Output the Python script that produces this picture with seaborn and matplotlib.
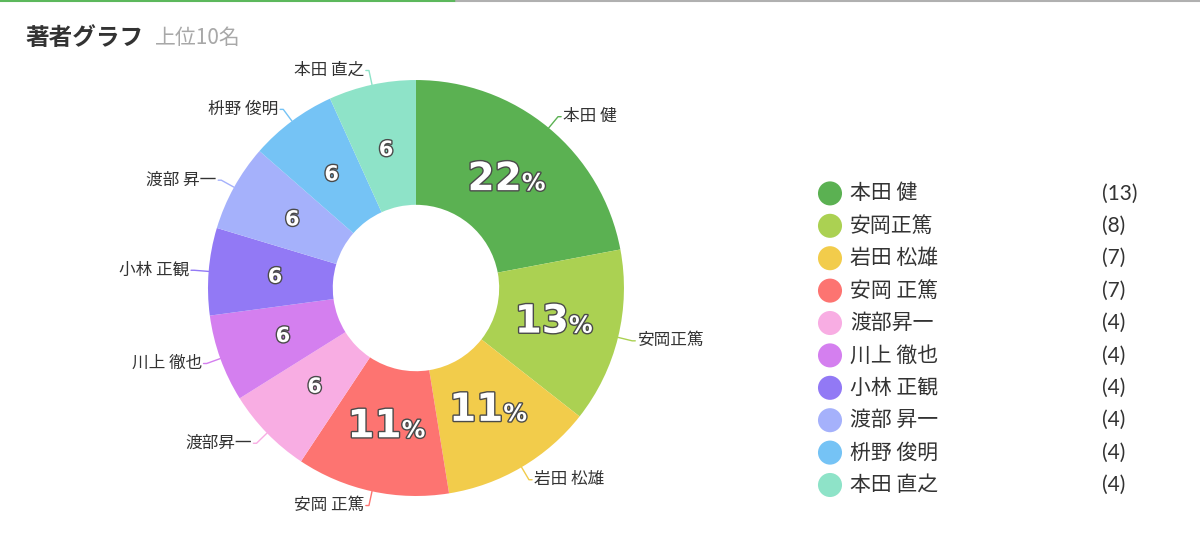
import numpy as np
import matplotlib
matplotlib.use('Agg')
import matplotlib.pyplot as plt
import matplotlib.patheffects as pe
from matplotlib.lines import Line2D
import seaborn as sns

# データ
authors = ['本田 健', '安岡正篤', '岩田 松雄', '安岡 正篤', '渡部昇一',
           '川上 徹也', '小林 正観', '渡部 昇一', '枡野 俊明', '本田 直之']
counts = [13, 8, 7, 7, 4, 4, 4, 4, 4, 4]
colors = ['#5bb152', '#abd152', '#f2cc4b', '#fd7471', '#f8ade3',
          '#d47fef', '#9279f5', '#a5b1fb', '#75c3f5', '#8ee3c8']

sns.set_theme(style='white')
plt.rcParams['font.family'] = ['Noto Sans CJK JP', 'DejaVu Sans']
num_font = ['Lato', 'DejaVu Sans']
pct_font = ['DejaVu Sans']

palette = sns.color_palette(colors)
fig = plt.figure(figsize=(12, 5.58), dpi=100)

# ドーナツグラフ
ax = fig.add_axes([0.13, 0.0179, 0.4333, 0.9319])
wedges, _ = ax.pie(counts, colors=palette, startangle=90, counterclock=False,
                   radius=1.0, wedgeprops=dict(width=0.6, edgecolor='none'))
ax.set_xlim(-1.25, 1.25)
ax.set_ylim(-1.25, 1.25)
ax.set_aspect('equal')
ax.axis('off')

total = sum(counts)
stroke = [pe.withStroke(linewidth=2.0, foreground='#4a4a4a')]
for w, name, c, col in zip(wedges, authors, counts, palette):
    ang = np.deg2rad((w.theta1 + w.theta2) / 2)
    cx, cy = np.cos(ang), np.sin(ang)
    pct = int(100 * c / total)
    # 内側のラベル
    r_in = 0.68
    if pct >= 10:
        ax.text(r_in * cx + 0.075, r_in * cy, str(pct), ha='right', va='center',
                fontsize=28, fontweight='bold', fontstyle='normal', color='white',
                family=pct_font, path_effects=stroke)
        ax.text(r_in * cx + 0.075, r_in * cy - 0.02, '%', ha='left', va='center',
                fontsize=17, fontweight='bold', fontstyle='normal', color='white',
                family=pct_font, path_effects=stroke)
    else:
        ax.text(r_in * cx, r_in * cy, str(pct), ha='center', va='center',
                fontsize=15, fontweight='bold', fontstyle='normal', color='white',
                family=pct_font, path_effects=stroke)
    # 外側のラベルと引き出し線
    ex, ey = 1.07 * cx, 1.07 * cy
    side = 1 if cx >= 0 else -1
    hx = ex + side * 0.015
    ax.add_line(Line2D([cx, ex, hx], [cy, ey, ey], color=col, lw=1.0))
    ax.text(hx + side * 0.008, ey, name, ha='left' if side > 0 else 'right',
            va='center', fontsize=12, color='#333333')

# 凡例
lax = fig.add_axes([0.68, 0.1018, 0.3, 0.5806])
lax.set_xlim(0, 360)
lax.set_ylim(len(authors) - 0.5, -0.5)
lax.axis('off')
rows = np.arange(len(authors))
lax.scatter(np.full(len(rows), 14), rows, s=300, c=palette, edgecolors='none',
            clip_on=False)
for i, (name, c) in enumerate(zip(authors, counts)):
    lax.text(34, i, name, ha='left', va='center', fontsize=15, color='#333333')
    lax.text(286, i, f'({c})', ha='left', va='center', fontsize=15,
             color='#333333', family=num_font)

# タイトル
fig.text(0.021, 0.932, '著者グラフ', fontsize=17, fontweight='bold',
         color='#333333', va='center')
fig.text(0.129, 0.932, '上位10名', fontsize=15, color='#a8a8a8', va='center')

# 上部の線
fig.add_artist(Line2D([0, 0.38], [0.998, 0.998], color='#5cb85c', lw=1.5))
fig.add_artist(Line2D([0.38, 1], [0.998, 0.998], color='#b0b0b0', lw=1.5))

fig.savefig('out.png', dpi=100, facecolor='white')
